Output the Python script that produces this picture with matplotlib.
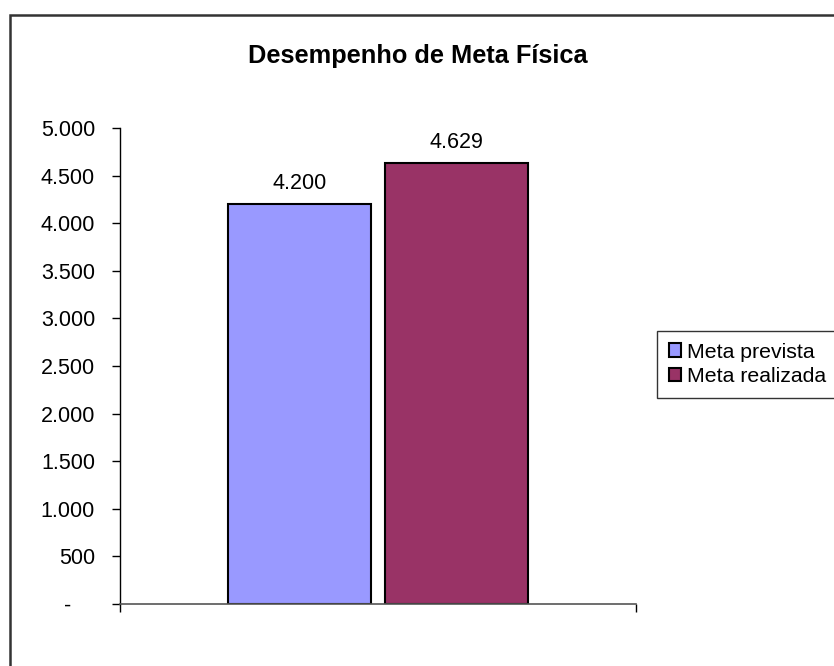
import matplotlib
matplotlib.use("Agg")
import matplotlib.pyplot as plt
from matplotlib.patches import Rectangle, Patch
from matplotlib.ticker import FuncFormatter

plt.rcParams['font.family'] = ['Liberation Sans', 'DejaVu Sans']

title = "Desempenho de Meta Física"
series = ["Meta prevista", "Meta realizada"]
values = [4200, 4629]
colors = ["#9999FF", "#993366"]
yticks = [0, 500, 1000, 1500, 2000, 2500, 3000, 3500, 4000, 4500, 5000]

W, H = 834, 666
fig = plt.figure(figsize=(W / 100, H / 100), dpi=100)

# outer chart border (right and bottom edges fall outside the image)
fig.add_artist(Rectangle((10 / W, -0.05), 1.0, 1.05 - 15 / H,
                         transform=fig.transFigure, fill=False, edgecolor="#333333", lw=1.8))

ax = fig.add_axes([120 / W, 1 - 604 / H, (636 - 120) / W, (604 - 128) / H])

offsets = [-0.152, 0.152]
width = 0.277
for off, v, c, s in zip(offsets, values, colors, series):
    ax.bar(off, v, width=width, color=c, edgecolor="black", linewidth=1.5, label=s)
    ax.text(off, v + 110, f"{v:,}".replace(",", "."), ha="center", va="bottom", fontsize=15.5)

def fmt(v, p):
    if v == 0:
        return "-    "
    return f"{int(v):,}".replace(",", ".")

ax.set_xlim(-0.5, 0.5)
ax.set_ylim(0, 5000)
ax.set_yticks(yticks)
ax.yaxis.set_major_formatter(FuncFormatter(fmt))
ax.set_xticks([-0.5, 0.5])
ax.set_xticklabels([])
ax.tick_params(axis="both", direction="out", length=6, width=1, labelsize=15.5, colors="black")
ax.tick_params(axis="y", pad=12)
for side in ["top", "right"]:
    ax.spines[side].set_visible(False)
ax.spines["left"].set_linewidth(1)
ax.spines["bottom"].set_linewidth(1.2)
ax.spines["bottom"].set_color("#555555")

fig.text(418 / W, 1 - 56 / H, title, ha="center", va="center", fontsize=18.3, fontweight="bold")

handles = [Patch(facecolor=c, edgecolor="black", lw=1.5) for c in colors]
leg = fig.legend(handles, series, loc="upper left", bbox_to_anchor=(657 / W, 1 - 331 / H),
                 fontsize=15.3, frameon=True, fancybox=False, edgecolor="black",
                 handlelength=0.6, handleheight=0.6, handletextpad=0.25,
                 borderpad=0.55, labelspacing=0.25, borderaxespad=0)
leg.get_frame().set_linewidth(1)

fig.savefig("out.png", dpi=100, facecolor="white")
